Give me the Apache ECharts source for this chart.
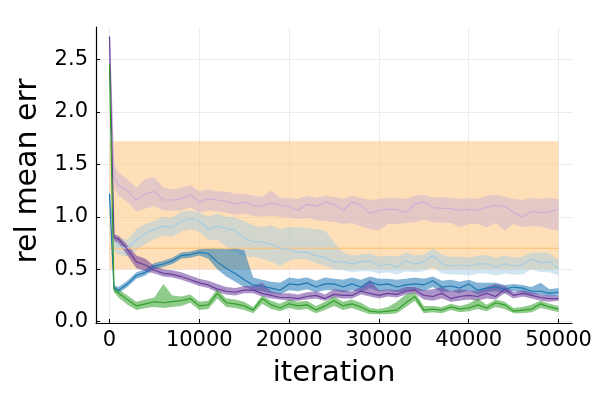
<!DOCTYPE html>
<html>
<head>
<meta charset="utf-8">
<script src="https://cdn.jsdelivr.net/npm/echarts@6/dist/echarts.min.js"></script>
<style>
html, body { margin: 0; padding: 0; background: #fff; }
#chart { width: 600px; height: 400px; }
</style>
</head>
<body>
<div id="chart"></div>
<script>
// iteration grid shared by the training curves
var iters = [0, 500,
	1000, 2000, 3000, 4000, 5000, 6000, 7000, 8000, 9000, 10000,
	11000, 12000, 13000, 14000, 15000, 16000, 17000, 18000, 19000, 20000,
	21000, 22000, 23000, 24000, 25000, 26000, 27000, 28000, 29000, 30000,
	31000, 32000, 33000, 34000, 35000, 36000, 37000, 38000, 39000, 40000,
	41000, 42000, 43000, 44000, 45000, 46000, 47000, 48000, 49000, 50000];

var xTicks = [0, 10000, 20000, 30000, 40000, 50000];
var yTicks = [0, 0.5, 1.0, 1.5, 2.0, 2.5];

// baseline band (constant)
var orangeIters = [0, 50000];
var orangeMean = [0.70, 0.70];
var orangeLo = [0.50, 0.50];
var orangeHi = [1.72, 1.72];

// light purple
var ppMean = [2.72, 1.38,
	1.30, 1.25, 1.16, 1.22, 1.24, 1.16, 1.16, 1.17, 1.21, 1.14,
	1.17, 1.16, 1.15, 1.12, 1.14, 1.11, 1.10, 1.13, 1.11, 1.10,
	1.06, 1.12, 1.10, 1.14, 1.12, 1.06, 1.14, 1.11, 1.03, 1.06,
	1.07, 1.07, 1.04, 1.12, 1.14, 1.09, 1.08, 1.08, 1.06, 1.07,
	1.06, 1.09, 1.11, 1.10, 1.04, 1.00, 1.05, 1.04, 1.05, 1.07];
var ppHi = [2.74, 1.50,
	1.42, 1.36, 1.28, 1.36, 1.38, 1.28, 1.26, 1.28, 1.30, 1.24,
	1.26, 1.24, 1.24, 1.22, 1.22, 1.20, 1.19, 1.25, 1.18, 1.18,
	1.17, 1.20, 1.18, 1.20, 1.19, 1.17, 1.20, 1.18, 1.16, 1.17,
	1.18, 1.18, 1.17, 1.20, 1.21, 1.18, 1.19, 1.18, 1.17, 1.18,
	1.17, 1.20, 1.21, 1.19, 1.17, 1.16, 1.18, 1.17, 1.18, 1.17];
var ppLo = [2.70, 1.28,
	1.20, 1.14, 1.05, 1.08, 1.10, 1.06, 1.06, 1.06, 1.09, 1.04,
	1.06, 1.05, 1.04, 1.02, 1.03, 1.01, 1.00, 1.01, 1.00, 0.99,
	0.98, 0.99, 0.97, 0.96, 0.95, 0.93, 0.94, 0.91, 0.88, 0.87,
	0.93, 0.93, 0.94, 0.95, 0.97, 0.95, 0.94, 0.94, 0.90, 0.93,
	0.93, 0.90, 0.94, 0.87, 0.93, 0.90, 0.91, 0.91, 0.88, 0.87];

// light blue
var pbMean = [1.22, 0.76,
	0.72, 0.70, 0.78, 0.84, 0.88, 0.91, 0.90, 0.96, 0.98, 0.96,
	0.88, 0.91, 0.89, 0.87, 0.80, 0.76, 0.76, 0.74, 0.70, 0.69,
	0.66, 0.66, 0.63, 0.61, 0.57, 0.57, 0.55, 0.57, 0.58, 0.53,
	0.55, 0.52, 0.58, 0.55, 0.57, 0.63, 0.55, 0.53, 0.54, 0.53,
	0.55, 0.55, 0.52, 0.55, 0.53, 0.54, 0.60, 0.56, 0.57, 0.51];
var pbHi = [1.24, 0.84,
	0.80, 0.78, 0.88, 0.93, 0.96, 1.00, 0.99, 1.05, 1.06, 1.04,
	1.00, 1.03, 1.00, 0.99, 0.96, 0.92, 0.90, 0.92, 0.88, 0.90,
	0.90, 0.89, 0.88, 0.87, 0.76, 0.66, 0.63, 0.64, 0.65, 0.62,
	0.63, 0.62, 0.66, 0.63, 0.64, 0.70, 0.64, 0.62, 0.62, 0.61,
	0.63, 0.63, 0.61, 0.63, 0.61, 0.62, 0.66, 0.66, 0.65, 0.59];
var pbLo = [1.20, 0.68,
	0.64, 0.62, 0.68, 0.74, 0.79, 0.82, 0.81, 0.86, 0.88, 0.86,
	0.78, 0.78, 0.72, 0.66, 0.62, 0.62, 0.60, 0.57, 0.53, 0.58,
	0.60, 0.59, 0.56, 0.53, 0.50, 0.49, 0.47, 0.48, 0.48, 0.46,
	0.47, 0.45, 0.48, 0.47, 0.48, 0.52, 0.46, 0.45, 0.45, 0.44,
	0.46, 0.46, 0.44, 0.46, 0.45, 0.45, 0.50, 0.47, 0.47, 0.44];

// blue
var bMean = [1.22, 0.32,
	0.30, 0.36, 0.44, 0.47, 0.53, 0.55, 0.58, 0.63, 0.64, 0.66,
	0.65, 0.57, 0.51, 0.46, 0.40, 0.35, 0.34, 0.32, 0.30, 0.36,
	0.35, 0.37, 0.33, 0.36, 0.36, 0.33, 0.36, 0.33, 0.38, 0.35,
	0.36, 0.33, 0.35, 0.36, 0.35, 0.39, 0.33, 0.34, 0.32, 0.36,
	0.30, 0.32, 0.33, 0.31, 0.33, 0.32, 0.29, 0.29, 0.27, 0.28];
var bHi = [1.24, 0.35,
	0.33, 0.39, 0.47, 0.50, 0.56, 0.58, 0.61, 0.66, 0.67, 0.69,
	0.70, 0.70, 0.69, 0.70, 0.68, 0.42, 0.40, 0.38, 0.37, 0.42,
	0.41, 0.42, 0.39, 0.42, 0.41, 0.40, 0.42, 0.40, 0.43, 0.41,
	0.41, 0.40, 0.41, 0.42, 0.41, 0.43, 0.39, 0.40, 0.38, 0.40,
	0.37, 0.37, 0.37, 0.35, 0.36, 0.35, 0.33, 0.37, 0.31, 0.32];
var bLo = [1.20, 0.29,
	0.27, 0.33, 0.41, 0.44, 0.50, 0.52, 0.55, 0.60, 0.61, 0.63,
	0.60, 0.50, 0.43, 0.38, 0.33, 0.30, 0.29, 0.27, 0.26, 0.30,
	0.29, 0.31, 0.28, 0.30, 0.30, 0.28, 0.30, 0.28, 0.32, 0.29,
	0.30, 0.28, 0.29, 0.30, 0.29, 0.33, 0.28, 0.29, 0.27, 0.30,
	0.26, 0.28, 0.29, 0.27, 0.29, 0.28, 0.26, 0.26, 0.24, 0.25];

// purple
var pMean = [2.72, 0.80,
	0.79, 0.69, 0.57, 0.54, 0.49, 0.46, 0.45, 0.43, 0.40, 0.37,
	0.35, 0.31, 0.29, 0.28, 0.30, 0.30, 0.27, 0.25, 0.23, 0.23,
	0.22, 0.24, 0.25, 0.22, 0.26, 0.25, 0.25, 0.29, 0.27, 0.25,
	0.27, 0.26, 0.29, 0.30, 0.25, 0.24, 0.27, 0.22, 0.24, 0.25,
	0.24, 0.27, 0.24, 0.31, 0.25, 0.27, 0.25, 0.23, 0.22, 0.22];
var pHi = [2.74, 0.83,
	0.82, 0.73, 0.63, 0.60, 0.53, 0.50, 0.49, 0.47, 0.44, 0.41,
	0.39, 0.36, 0.33, 0.32, 0.34, 0.34, 0.37, 0.29, 0.27, 0.27,
	0.26, 0.28, 0.29, 0.26, 0.31, 0.30, 0.29, 0.33, 0.40, 0.30,
	0.31, 0.30, 0.33, 0.33, 0.30, 0.31, 0.33, 0.29, 0.31, 0.30,
	0.29, 0.33, 0.36, 0.34, 0.28, 0.30, 0.28, 0.26, 0.25, 0.25];
var pLo = [2.70, 0.77,
	0.75, 0.63, 0.51, 0.48, 0.46, 0.43, 0.42, 0.40, 0.37, 0.34,
	0.32, 0.28, 0.26, 0.25, 0.27, 0.27, 0.24, 0.22, 0.21, 0.20,
	0.20, 0.21, 0.22, 0.20, 0.23, 0.22, 0.22, 0.26, 0.24, 0.22,
	0.24, 0.23, 0.26, 0.27, 0.21, 0.20, 0.22, 0.19, 0.20, 0.21,
	0.20, 0.22, 0.21, 0.27, 0.22, 0.24, 0.22, 0.20, 0.19, 0.20];

// green
var gMean = [2.45, 0.31,
	0.27, 0.21, 0.15, 0.17, 0.19, 0.18, 0.19, 0.20, 0.22, 0.15,
	0.16, 0.27, 0.18, 0.17, 0.15, 0.11, 0.22, 0.16, 0.13, 0.17,
	0.15, 0.16, 0.11, 0.15, 0.20, 0.15, 0.17, 0.14, 0.10, 0.09,
	0.10, 0.11, 0.18, 0.24, 0.11, 0.12, 0.11, 0.14, 0.12, 0.13,
	0.16, 0.13, 0.18, 0.16, 0.10, 0.11, 0.12, 0.17, 0.14, 0.12];
var gHi = [2.47, 0.34,
	0.31, 0.25, 0.19, 0.21, 0.23, 0.36, 0.25, 0.24, 0.26, 0.19,
	0.20, 0.31, 0.22, 0.21, 0.19, 0.14, 0.25, 0.20, 0.17, 0.21,
	0.19, 0.20, 0.15, 0.19, 0.24, 0.19, 0.21, 0.18, 0.13, 0.12,
	0.14, 0.19, 0.26, 0.28, 0.15, 0.15, 0.14, 0.17, 0.15, 0.17,
	0.22, 0.16, 0.21, 0.19, 0.13, 0.14, 0.16, 0.20, 0.17, 0.15];
var gLo = [2.43, 0.28,
	0.23, 0.16, 0.11, 0.13, 0.14, 0.13, 0.14, 0.15, 0.18, 0.11,
	0.12, 0.22, 0.14, 0.13, 0.11, 0.08, 0.17, 0.12, 0.10, 0.13,
	0.11, 0.12, 0.08, 0.11, 0.15, 0.11, 0.13, 0.10, 0.07, 0.07,
	0.07, 0.08, 0.14, 0.20, 0.08, 0.09, 0.08, 0.11, 0.09, 0.10,
	0.12, 0.10, 0.14, 0.12, 0.08, 0.08, 0.09, 0.13, 0.11, 0.09];

var FONT = 'DejaVu Sans';

// ribbon drawn as one polygon (custom series, coords via api.coord), then the mean line
function ribbon(xs, mean, lo, hi, color, alpha) {
	var band = {
		type: 'custom',
		silent: true,
		data: xs.map(function (x, i) { return [x, lo[i], hi[i]]; }),
		encode: { x: 0, y: [1, 2] },
		renderItem: function (params, api) {
			if (params.dataIndex !== 0) return;
			var pts = [], i;
			for (i = 0; i < xs.length; i++) pts.push(api.coord([xs[i], hi[i]]));
			for (i = xs.length - 1; i >= 0; i--) pts.push(api.coord([xs[i], lo[i]]));
			return {
				type: 'polygon',
				shape: { points: pts },
				style: { fill: color, opacity: alpha }
			};
		}
	};
	var line = {
		type: 'line', symbol: 'none', silent: true,
		data: xs.map(function (x, i) { return [x, mean[i]]; }),
		lineStyle: { color: color, width: 1.2 }
	};
	return [band, line];
}

var series = [].concat(
	ribbon(orangeIters, orangeMean, orangeLo, orangeHi, '#fdbf6f', 0.5),
	ribbon(iters, ppMean, ppLo, ppHi, '#cab2d6', 0.5),
	ribbon(iters, pbMean, pbLo, pbHi, '#a6cee3', 0.5),
	ribbon(iters, bMean, bLo, bHi, '#1f78b4', 0.55),
	ribbon(iters, pMean, pLo, pHi, '#6a3d9a', 0.55),
	ribbon(iters, gMean, gLo, gHi, '#33a02c', 0.55)
);

var chart = echarts.init(document.getElementById('chart'));
chart.setOption({
	animation: false,
	backgroundColor: '#fff',
	grid: { left: 96, right: 28, top: 27, bottom: 77 },
	xAxis: {
		type: 'value',
		min: -1500,
		max: 51500,
		name: 'iteration',
		nameLocation: 'middle',
		nameGap: 36,
		nameTextStyle: { fontFamily: FONT, fontSize: 29, color: '#000' },
		axisLine: { show: true, onZero: false, lineStyle: { color: '#000', width: 1.2 } },
		axisTick: { show: true, inside: true, length: 4, customValues: xTicks, lineStyle: { color: '#000' } },
		axisLabel: {
			customValues: xTicks, margin: 7, fontFamily: FONT, fontSize: 21, color: '#000',
			formatter: function (v) { return String(v); }
		},
		splitLine: { show: true, lineStyle: { color: '#ececec', width: 1 } }
	},
	yAxis: {
		type: 'value',
		min: -0.013,
		max: 2.81,
		name: 'rel mean err',
		nameLocation: 'middle',
		nameGap: 47,
		nameTextStyle: { fontFamily: FONT, fontSize: 30, color: '#000', padding: [0, 0, 0, 8] },
		axisLine: { show: true, onZero: false, lineStyle: { color: '#000', width: 1.2 } },
		axisTick: { show: true, inside: true, length: 4, customValues: yTicks, lineStyle: { color: '#000' } },
		axisLabel: {
			customValues: yTicks, margin: 8, fontFamily: FONT, fontSize: 21, color: '#000',
			formatter: function (v) { return v.toFixed(1); }
		},
		splitLine: { show: true, lineStyle: { color: '#ececec', width: 1 } }
	},
	series: series
});
</script>
</body>
</html>
